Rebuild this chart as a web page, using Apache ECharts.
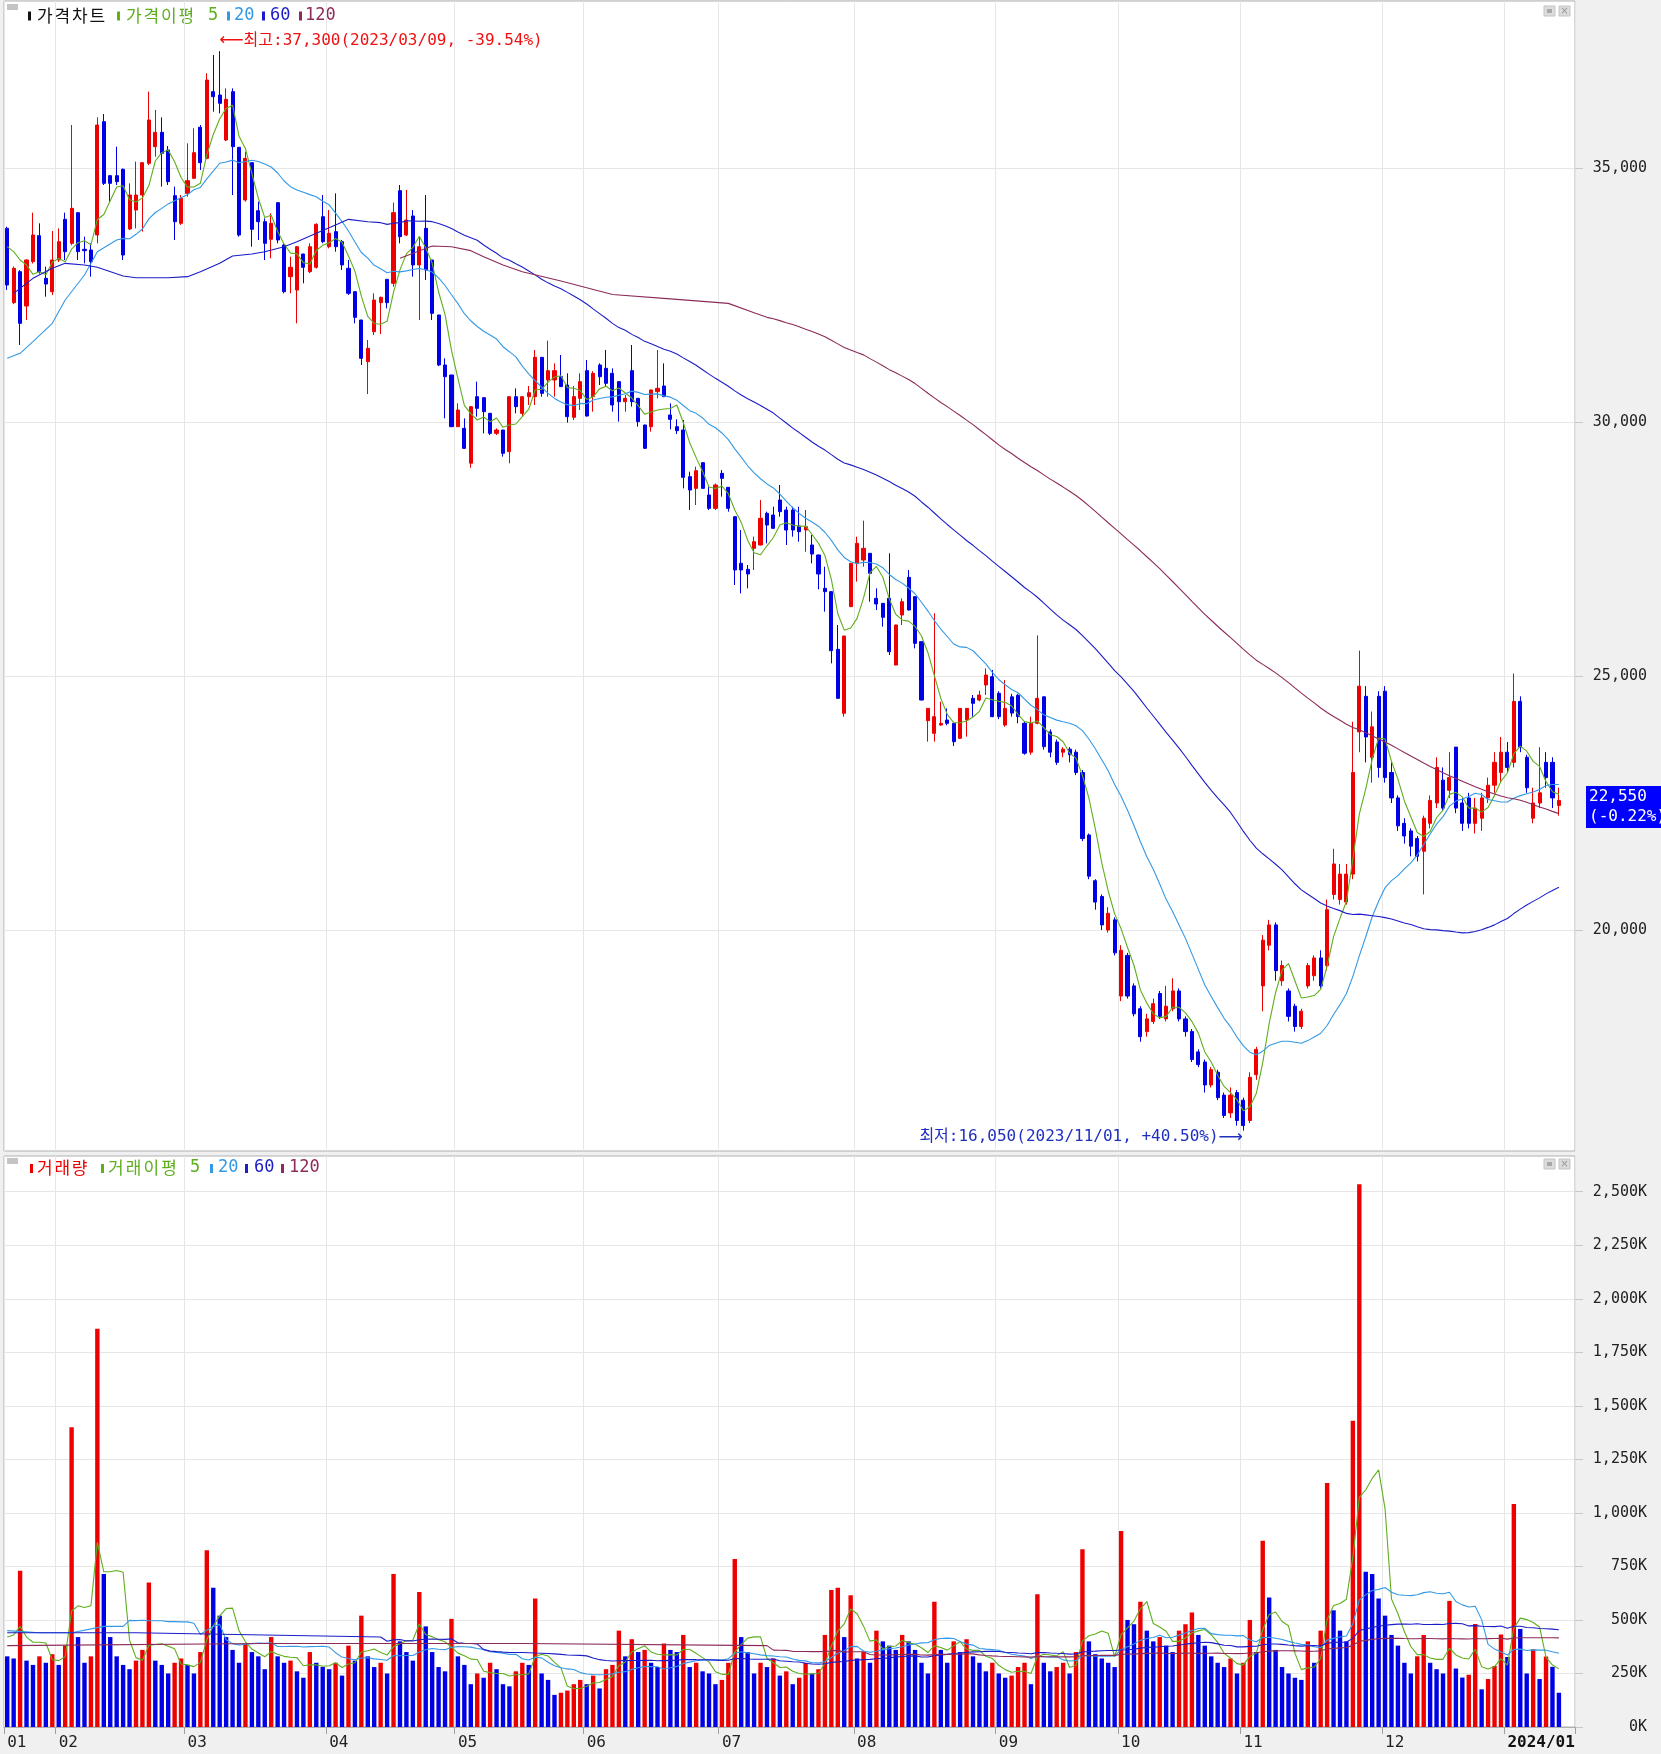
<!DOCTYPE html>
<html><head><meta charset="utf-8">
<script src="https://cdn.jsdelivr.net/npm/echarts@6/dist/echarts.min.js"></script>
<style>html,body{margin:0;padding:0;background:#f0f0f0;}#c{width:1661px;height:1754px;}</style>
</head><body><div id="c"></div>
<script>
// ---------------- DATA ----------------
const tradingDays = [
 ['2023/01',[18,19,20,25,26,27,30,31]],
 ['2023/02',[1,2,3,6,7,8,9,10,13,14,15,16,17,20,21,22,23,24,27,28]],
 ['2023/03',[2,3,6,7,8,9,10,13,14,15,16,17,20,21,22,23,24,27,28,29,30,31]],
 ['2023/04',[3,4,5,6,7,10,11,12,13,14,17,18,19,20,21,24,25,26,27,28]],
 ['2023/05',[2,3,4,8,9,10,11,12,15,16,17,18,19,22,23,24,25,26,30,31]],
 ['2023/06',[1,2,5,7,8,9,12,13,14,15,16,19,20,21,22,23,26,27,28,29,30]],
 ['2023/07',[3,4,5,6,7,10,11,12,13,14,17,18,19,20,21,24,25,26,27,28,31]],
 ['2023/08',[1,2,3,4,7,8,9,10,11,14,16,17,18,21,22,23,24,25,28,29,30,31]],
 ['2023/09',[1,4,5,6,7,8,11,12,13,14,15,18,19,20,21,22,25,26,27]],
 ['2023/10',[4,5,6,10,11,12,13,16,17,18,19,20,23,24,25,26,27,30,31]],
 ['2023/11',[1,2,3,6,7,8,9,10,13,14,15,16,17,20,21,22,23,24,27,28,29,30]],
 ['2023/12',[1,4,5,6,7,8,11,12,13,14,15,18,19,20,21,22,26,27,28]],
 ['2024/01',[2,3,4,5,8,9,10,11,12]]
];
// [open, high, low, close]
const candles = [
[33812,33845,32598,32697],[32349,33060,32320,33025],[32959,32990,31516,31942],[32283,33200,32008,33189],
[33156,34121,33120,33681],[33668,33911,32920,32959],[32828,33058,32467,32716],[32565,33760,32500,33189],
[33189,33812,33150,33550],[33989,34121,33189,33353],[33517,35846,33480,34206],[34121,34130,33189,33353],
[33399,33648,33123,33373],[33386,33517,32861,33156],[33681,35997,33517,35846],[35912,36063,34665,34698],
[34849,34860,34337,34698],[34849,35420,34665,34731],[34974,34990,33189,33287],[33799,34698,33780,34468],
[34173,35125,33812,34468],[34468,35110,33747,35105],[35092,36503,35060,35945],[35420,36142,35223,35702],
[35702,35997,34633,35289],[35354,35433,34665,34731],[34455,34633,33583,33943],[33911,34468,33878,34403],
[34501,35486,34436,34751],[34797,35781,34780,35302],[35801,35846,34961,35105],[35190,36864,35170,36732],
[36503,37225,36109,36404],[36437,37300,36076,36273],[35551,36568,35530,36352],[36503,36568,34468,35420],
[35407,35410,33648,33681],[34370,35322,34337,35190],[35105,35110,33451,33793],[34160,34337,33583,33943],
[33943,34009,33189,33517],[33596,34108,33222,33911],[34318,34320,33517,33583],[33484,33517,32533,32565],
[32861,33255,32533,33045],[32598,33464,31942,33451],[33307,33310,32730,33045],[32959,33517,32930,33451],
[33045,33911,33020,33891],[34042,34468,33517,33550],[33451,34173,33419,33714],[33747,34501,33353,33451],
[33550,33583,32992,33091],[33025,33189,32500,32533],[32565,32570,31942,32060],[32008,32010,31122,31253],
[31187,31614,30551,31450],[31778,32533,31712,32401],[32349,32467,31732,32454],[32808,32810,32237,32349],
[32730,34318,32664,34121],[34554,34665,33517,33648],[33681,34567,33660,33976],[34055,34173,32861,33091],
[33091,33648,32008,33451],[33812,34468,32795,32992],[33189,33190,32008,32139],[32106,32110,31100,31122],
[31122,31253,30072,30892],[30925,30930,29900,29908],[29908,30367,29900,30236],[29875,30072,29470,29481],
[29190,30310,29100,30302],[30498,30794,30105,30269],[30479,30480,29777,30203],[30170,30180,29744,29777],
[29777,29875,29744,29842],[29842,29845,29317,29383],[29416,30500,29186,30498],[30498,30662,30170,30302],
[30170,30500,30100,30498],[30499,30709,30335,30577],[30499,31417,30335,31273],[31273,31280,30499,30564],
[30827,31601,30499,31011],[30827,31155,30499,31011],[30892,31319,30690,30696],[30728,30958,29987,30105],
[30092,30709,30039,30499],[30466,30958,30236,30794],[31011,31221,30105,30118],[30499,31000,30203,30958],
[31122,31155,30728,30892],[31056,31417,30696,30761],[30958,31056,30203,30335],[30794,30800,30007,30400],
[30400,30532,30203,30466],[31011,31516,30302,30400],[30466,30470,29908,30007],[29941,29945,29470,29482],
[29908,30640,29810,30630],[30597,31417,30466,30663],[30709,31155,30490,30499],[30138,30367,29856,30052],
[29908,30052,29764,29829],[29843,30039,28694,28911],[28924,29022,28268,28661],[28694,29121,28366,29042],
[29199,29200,28680,28694],[28563,28727,28268,28300],[28300,28790,28268,28760],[28989,29055,28530,28891],
[28714,28720,28235,28300],[28136,28140,26791,27087],[27218,27874,26627,27087],[27100,27185,26726,27008],
[27513,27743,27087,27644],[27579,28464,27570,28104],[28202,28235,27611,27972],[28169,28333,27900,27907],
[28464,28760,28136,28235],[28268,28333,27579,27874],[28268,28333,27743,27874],[27953,28333,27644,27841],
[27874,28268,27447,27940],[27579,27776,27218,27401],[27382,27390,26706,27008],[26726,27152,26266,26660],
[26660,26670,25249,25498],[25525,26004,24550,24560],[24265,25790,24199,25787],[26365,27220,26360,27218],
[27218,27743,26857,27611],[27283,28058,27152,27513],[27415,27420,26463,27021],[26529,26726,26299,26417],
[26430,26435,25971,26155],[26529,27415,25413,25479],[25216,26010,25210,26004],[26201,26529,26004,26463],
[26942,27087,26290,26299],[26562,26565,25544,25643],[25676,25680,24520,24527],[24120,24365,23707,24363],
[23871,26233,23707,24199],[24035,24494,24020,24068],[24134,24363,24030,24068],[24068,24070,23622,23707],
[23773,24370,23760,24363],[24134,24370,23806,24363],[24560,24626,24199,24462],[24527,24711,24500,24626],
[24823,25151,24626,25019],[24987,25118,24190,24199],[24660,24700,24150,24200],[24035,24920,24000,24363],
[24590,24650,24200,24270],[24620,24650,24070,24200],[24070,24100,23450,23480],[23500,24200,23450,24070],
[24070,25800,24050,24560],[24590,24600,23550,23610],[23900,23950,23400,23500],[23700,23750,23250,23300],
[23500,23600,23400,23560],[23560,23600,23300,23450],[23500,23550,23050,23100],[23100,23150,21750,21800],
[21870,21900,21000,21060],[20970,21000,20400,20550],[20660,20700,20000,20100],[20000,20450,19950,20330],
[20200,20250,19500,19550],[18700,19700,18600,19600],[19500,19550,18650,18700],[18900,18950,18300,18350],
[18450,18500,17800,17900],[18000,18350,17900,18250],[18200,18650,18150,18550],[18750,18800,18250,18300],
[18250,18900,18200,18500],[18450,19050,18400,18800],[18800,18850,18200,18250],[18250,18300,17900,18000],
[18000,18050,17400,17450],[17600,17650,17300,17350],[17400,17450,16800,16950],[16950,17300,16900,17250],
[17200,17250,16650,16700],[16750,16800,16300,16350],[16400,16900,16300,16750],[16800,16850,16150,16250],
[16650,16700,16050,16150],[16250,17200,16200,17100],[17150,17700,17050,17650],[18900,19900,18400,19800],
[19700,20200,19600,20100],[20100,20150,19000,19200],[19000,19400,18900,19300],[18800,18850,18200,18300],
[18500,18550,18000,18100],[18100,18450,18050,18400],[18900,19350,18850,19300],[19100,19500,19000,19450],
[19450,19600,18850,18900],[19300,20600,19200,20400],[20700,21600,20600,21300],[20600,21300,20500,21100],
[20550,21300,20500,21100],[21100,24100,21000,23100],[23900,25500,23500,24800],[24600,24800,23300,23800],
[23400,24300,22900,24000],[24600,24700,23000,23200],[24700,24800,22900,23000],[23100,23300,22500,22600],
[22600,22650,21950,22050],[22100,22200,21700,21850],[21950,22000,21450,21650],[21800,21850,21350,21450],
[21550,22250,20700,22200],[22100,22650,22000,22550],[22500,23400,22400,23200],[22950,23200,22350,22400],
[22750,23500,22600,23000],[23600,23600,22300,22400],[22500,22600,21950,22100],[22600,22700,22000,22100],
[22100,22600,21900,22400],[22200,22700,21950,22600],[22600,23000,22500,22850],[22850,23500,22700,23300],
[23100,23800,22900,23500],[23500,23700,23100,23200],[23300,25050,23200,24500],[24500,24600,23500,23600],
[23400,23450,22700,22800],[22200,22800,22100,22500],[22500,23600,22400,22700],[23300,23500,22800,23000],
[23300,23400,22400,22600],[22450,22800,22250,22550]
];
// volume in thousands, by month
const vol01 = [330,320,730,310,290,330,300,340];
const vol02 = [290,380,1400,420,300,330,1860,715,420,330,290,270,310,360,675,310,290,250,300,320];
const vol03 = [290,250,350,825,650,520,420,360,300,390,350,330,270,420,330,300,310,260,230,350,300,280];
const vol04 = [270,300,240,380,310,520,330,280,300,250,715,400,350,310,630,470,350,280,260,505];
const vol05 = [330,290,200,250,230,300,270,200,190,260,300,290,600,250,220,150,160,170,200,220];
const vol06 = [200,240,180,270,290,450,330,410,350,360,300,280,390,360,350,430,280,300,260,250,200];
const vol07 = [220,300,785,420,350,250,300,280,320,240,260,200,230,300,250,270,430,640,650,420,615];
const vol08 = [320,350,300,450,400,380,360,430,400,360,300,250,585,360,300,400,350,410,330,300,260,300];
const vol09 = [250,230,240,280,300,200,620,300,260,280,300,250,350,830,400,340,320,300,280];
const vol10 = [915,500,480,585,450,400,420,380,350,450,480,535,430,380,330,300,280,320,250];
const vol11 = [300,500,350,870,605,360,280,250,230,220,400,300,450,1140,545,450,400,1430,2535,725,715,600];
const vol12 = [520,430,380,300,250,330,430,300,270,250,589,273,231,244,481,176,224,285,432];
const vol2401 = [327,1041,458,250,363,224,329,281,160];
const volBeforeStart = 400; // volume of the day before the first bar (sets first bar colour)
const ma5Head = [[0,33451],[1,33353],[2,33189],[3,33091]];
const ma20Head = [[0,31253],[2,31352],[4,31581],[7,31942],[9,32401],[12,32894],[14,33353],[17,33583],[18,33615]];
const ma60Head = [[1,32533],[4,32828],[7,33025],[9,33123],[12,33091],[14,33045],[18,32874],[20,32841],[25,32841],[28,32861],[30,32959],[33,33123],[35,33268],[38,33307],[40,33353],[43,33451],[45,33550],[48,33714],[51,33878],[53,33989],[56,33943],[58,33924]];
const ma120Head = [[61,33222],[66,33464],[69,33451],[72,33373],[74,33255],[77,33091],[80,32959],[86,32775],[94,32511],[103,32423],[112,32335],[116,32150],[118,32060]];
const volMa5Head = [[0,420],[1,430],[2,470],[3,420]];
const volMa20Head = [[0,450],[5,440],[10,440],[15,470],[18,470]];
const volMa60Head = [[0,440],[20,440],[40,430],[58,420]];
const volMa120Head = [[0,380],[40,390],[80,390],[118,380]];
const priceTicks = [20000,25000,30000,35000];
const volumeTicks = [0,250000,500000,750000,1000000,1250000,1500000,1750000,2000000,2250000,2500000];

// ---------------- BUILD ----------------
const cats = [], monthStart = new Set();
tradingDays.forEach(([ym, days]) => {
  days.forEach((d, k) => {
    if (k === 0) monthStart.add(cats.length);
    cats.push(ym + '/' + String(d).padStart(2,'0'));
  });
});
const nData = cats.length;
cats.push('', '');
const N = cats.length;
const volume = [].concat(vol01,vol02,vol03,vol04,vol05,vol06,vol07,vol08,vol09,vol10,vol11,vol12,vol2401).map(v=>v*1000);
const closes = candles.map(r=>r[3]);
function sma(src, n, head, scale) {
  const out = new Array(N).fill(null);
  head.forEach(([i,v]) => out[i] = v*(scale||1));
  for (let i = n-1; i < src.length; i++) { let s = 0; for (let k=i-n+1;k<=i;k++) s += src[k]; out[i] = s/n; }
  return out;
}
const RED='#ee0000', BLUE='#0000e6';
const C_MA5='#5fae1e', C_MA20='#3399e6', C_MA60='#1c1cc8', C_MA120='#8c2a5a';
const candleData = candles.map(([o,h,l,c]) => [o,c,l,h]);
let maxI=0, minI=0;
candles.forEach((r,i)=>{ if (r[1]>candles[maxI][1]) maxI=i; if (r[2]<candles[minI][2]) minI=i; });
const last = closes[nData-1], prev = closes[nData-2];
const fmt = v => Math.round(v).toLocaleString('en-US');
const maxPct = ((last - candles[maxI][1]) / candles[maxI][1] * 100).toFixed(2);
const minPct = ((last - candles[minI][2]) / candles[minI][2] * 100).toFixed(2);
const chgPct = ((last - prev) / prev * 100).toFixed(2);
const volData = volume.map((v,i)=>({value:v, itemStyle:{color: v >= (i? volume[i-1] : volBeforeStart*1000) ? RED : BLUE}}));

const MONO = "'DejaVu Sans Mono','Noto Sans CJK KR',monospace";
const KR = "'Noto Sans CJK KR','DejaVu Sans',sans-serif";
const isMS = i => monthStart.has(i);
const GRID_L = 4, GRID_W = 1571;

const chart = echarts.init(document.getElementById('c'), null, {renderer:'canvas'});
function legendItems(y, items) {
  const els = [];
  items.forEach(it => {
    if (it.bar) els.push({type:'rect', shape:{x:it.x, y:y-4, width:3, height:9}, style:{fill:it.bar}});
    else if (it.kr) it.t.split('').forEach((ch,k) => els.push({type:'text', x:it.x + k*it.step, y:y,
        style:{text:ch, fill:it.c, font:'17px '+KR, textVerticalAlign:'middle'}}));
    else els.push({type:'text', x:it.x, y:y, style:{text:it.t, fill:it.c, font:'17px '+MONO, textVerticalAlign:'middle'}});
  });
  return els;
}
const icons = y => [
  {type:'rect', shape:{x:1544,y:y,width:11,height:10}, style:{fill:'#dcdcdc', stroke:'#c4c4c4', lineWidth:1}},
  {type:'rect', shape:{x:1547,y:y+3,width:5,height:4}, style:{fill:'#a8a8a8'}},
  {type:'rect', shape:{x:1559,y:y,width:11,height:10}, style:{fill:'#dcdcdc', stroke:'#c4c4c4', lineWidth:1}},
  {type:'text', x:1564.5, y:y+5, style:{text:'×', fill:'#999', font:'10px DejaVu Sans', textAlign:'center', textVerticalAlign:'middle'}}
];
const graphics = [].concat(
  [{type:'rect', shape:{x:7,y:4,width:11,height:6}, style:{fill:'#c4c4c4'}},
   {type:'rect', shape:{x:7,y:1158,width:11,height:6}, style:{fill:'#c4c4c4'}}],
  legendItems(15.5, [
    {x:28, bar:'#111'}, {x:37, t:'가격차트', c:'#111', kr:true, step:17.5},
    {x:117, bar:C_MA5}, {x:126, t:'가격이평', c:C_MA5, kr:true, step:17.5}, {x:208, t:'5', c:C_MA5},
    {x:227, bar:C_MA20}, {x:234, t:'20', c:C_MA20},
    {x:262, bar:C_MA60}, {x:270, t:'60', c:C_MA60},
    {x:299, bar:C_MA120}, {x:305, t:'120', c:C_MA120}
  ]),
  legendItems(1168, [
    {x:30, bar:RED}, {x:37, t:'거래량', c:RED, kr:true, step:17.4},
    {x:101, bar:C_MA5}, {x:108, t:'거래이평', c:C_MA5, kr:true, step:17.75}, {x:190, t:'5', c:C_MA5},
    {x:210, bar:C_MA20}, {x:218, t:'20', c:C_MA20},
    {x:245, bar:C_MA60}, {x:254, t:'60', c:C_MA60},
    {x:281, bar:C_MA120}, {x:289, t:'120', c:C_MA120}
  ]),
  icons(6), icons(1159)
);

const xBase = (gi, showLabel) => ({
  type:'category', gridIndex:gi, data:cats, boundaryGap:true,
  axisLine:{show:showLabel, lineStyle:{color:'#b0b0b0'}},
  axisTick:{show:showLabel, interval:isMS, length:7, lineStyle:{color:'#a0a0a0'}},
  axisLabel:{show:showLabel, interval:isMS, align:'left', margin:8,
    formatter:(v)=>{ const ym = v.slice(0,7); if (ym==='2024/01') return '{b|2024/01}'; return ym.slice(5,7); },
    fontFamily:MONO, fontSize:16, color:'#222', rich:{b:{fontFamily:MONO, fontSize:16, fontWeight:'bold', color:'#111'}}},
  splitLine:{show:true, interval:isMS, lineStyle:{color:'#e6e6e6', width:1}}
});
const lineS = (name, data, color, xi, yi, z) => ({name, type:'line', xAxisIndex:xi, yAxisIndex:yi, data, showSymbol:false, connectNulls:true, symbol:'none', z:z||3, lineStyle:{color, width:1.1}, silent:true});

chart.setOption({
  animation:false,
  backgroundColor:'#f0f0f0',
  grid:[
    {left:GRID_L, top:1, width:GRID_W, height:1150, show:true, backgroundColor:'#fff', borderColor:'#b0b0b0', borderWidth:1},
    {left:GRID_L, top:1156, width:GRID_W, height:571, show:true, backgroundColor:'#fff', borderColor:'#b0b0b0', borderWidth:1}
  ],
  xAxis:[xBase(0,false), xBase(1,true)],
  yAxis:[
    {type:'value', gridIndex:0, position:'right', min:15649.6, max:38287.4, scale:true,
      axisLine:{show:false},
      axisTick:{show:true, customValues:priceTicks, length:8, lineStyle:{color:'#c8c8c8'}},
      axisLabel:{customValues:priceTicks, formatter:v=>fmt(v), align:'right', margin:72, fontFamily:MONO, fontSize:15, color:'#222'},
      splitLine:{show:true, lineStyle:{color:'#e6e6e6'}}},
    {type:'value', gridIndex:1, position:'right', min:0, max:2666700,
      axisLine:{show:false},
      axisTick:{show:true, customValues:volumeTicks, length:8, lineStyle:{color:'#c8c8c8'}},
      axisLabel:{customValues:volumeTicks, formatter:v=>fmt(v/1000)+'K', align:'right', margin:72, fontFamily:MONO, fontSize:15, color:'#222'},
      splitLine:{show:true, lineStyle:{color:'#e6e6e6'}}}
  ],
  graphic:graphics,
  series:[
    {type:'candlestick', xAxisIndex:0, yAxisIndex:0, data:candleData, barWidth:3.6, z:2,
      itemStyle:{color:RED, color0:BLUE, borderColor:RED, borderColor0:BLUE, borderWidth:1},
      markPoint:{symbol:'rect', symbolSize:1, itemStyle:{color:'transparent'}, silent:true, data:[
        {coord:[maxI, candles[maxI][1]], label:{show:true, position:[0,-10], align:'left', verticalAlign:'middle',
          formatter:'{a|⟵}최고:'+fmt(candles[maxI][1])+'('+cats[maxI]+', '+maxPct+'%)', color:'#ee1111', fontFamily:MONO, fontSize:16,
          rich:{a:{fontFamily:'DejaVu Sans', fontSize:17, color:'#ee1111'}}}},
        {coord:[minI, candles[minI][2]], label:{show:true, position:[0,7], align:'right', verticalAlign:'middle',
          formatter:'최저:'+fmt(candles[minI][2])+'('+cats[minI]+', +'+minPct+'%){a|⟶}', color:'#1f2fc0', fontFamily:MONO, fontSize:16,
          rich:{a:{fontFamily:'DejaVu Sans', fontSize:17, color:'#1f2fc0'}}}}
      ]}
    },
    lineS('ma5', sma(closes,5,ma5Head), C_MA5, 0, 0, 4),
    lineS('ma20', sma(closes,20,ma20Head), C_MA20, 0, 0, 4),
    lineS('ma60', sma(closes,60,ma60Head), C_MA60, 0, 0, 4),
    lineS('ma120', sma(closes,120,ma120Head), C_MA120, 0, 0, 4),
    {type:'bar', xAxisIndex:1, yAxisIndex:1, data:volData, barWidth:4.4, z:2},
    lineS('vma5', sma(volume,5,volMa5Head,1000), C_MA5, 1, 1, 4),
    lineS('vma20', sma(volume,20,volMa20Head,1000), C_MA20, 1, 1, 4),
    lineS('vma60', sma(volume,60,volMa60Head,1000), C_MA60, 1, 1, 4),
    lineS('vma120', sma(volume,120,volMa120Head,1000), C_MA120, 1, 1, 4)
  ]
});
// current-price box, placed through the price axis scale
const yPix = chart.convertToPixel({yAxisIndex:0}, last);
chart.setOption({graphic: graphics.concat([
  {type:'rect', shape:{x:1586, y:yPix-14.5, width:75, height:42}, style:{fill:'#0000ff'}},
  {type:'text', x:1589, y:yPix-4, style:{text:fmt(last), fill:'#fff', font:'16px '+MONO, textVerticalAlign:'middle'}},
  {type:'text', x:1589, y:yPix+16, style:{text:'('+chgPct+'%)', fill:'#fff', font:'16px '+MONO, textVerticalAlign:'middle'}}
])});
</script></body></html>
